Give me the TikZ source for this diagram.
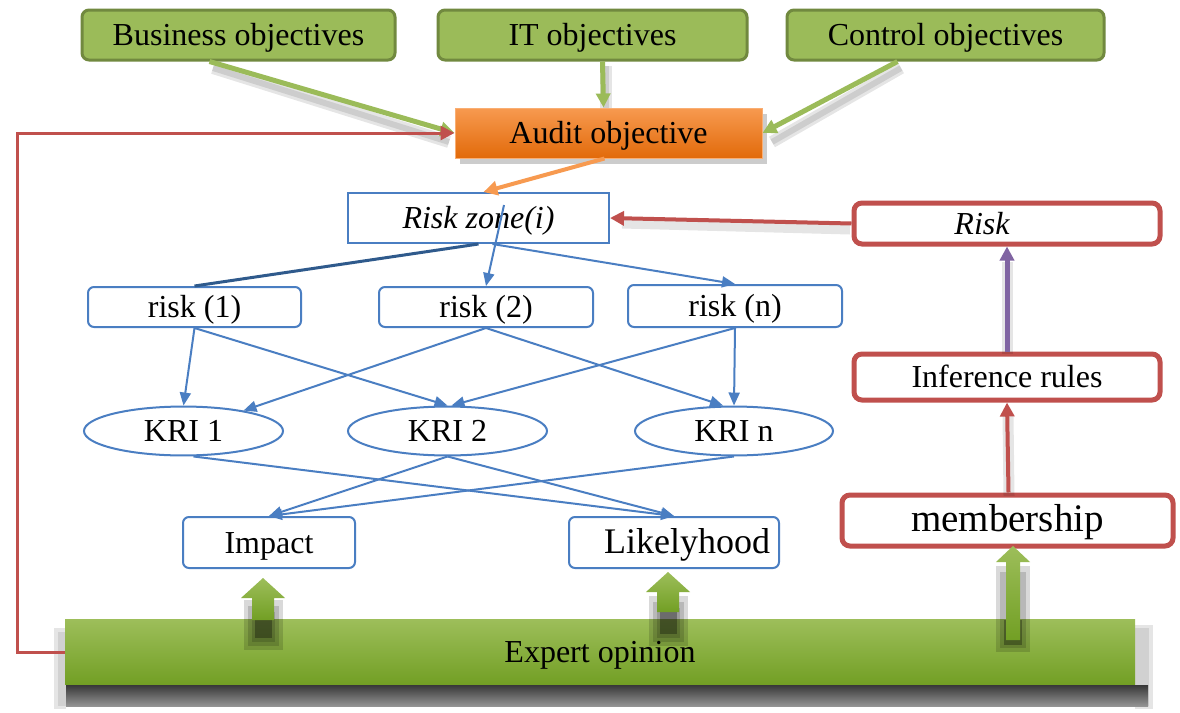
\documentclass[tikz,border=0pt]{standalone}
\usepackage{fontspec}
\setmainfont{Liberation Serif}
\usetikzlibrary{arrows.meta,shapes.geometric,shadows}
\definecolor{objgreen}{HTML}{9BBB59}
\definecolor{objgreenD}{HTML}{71893F}
\definecolor{accblue}{HTML}{4A7EC2}
\definecolor{darkblue}{HTML}{2F5A8C}
\definecolor{accred}{HTML}{C0504D}
\definecolor{accpurple}{HTML}{8064A2}
\definecolor{orangeL}{HTML}{F79A50}
\definecolor{orangeD}{HTML}{E26A0A}
\definecolor{barL}{HTML}{9DBE5A}
\definecolor{barD}{HTML}{729F24}
\tikzset{
  txt/.style={font=\fontsize{32}{36}\selectfont, inner sep=1pt, align=center, text height=28pt, text depth=6.6pt},
  objbox/.style={txt, draw=objgreenD, line width=3pt, fill=objgreen, rounded corners=7pt, minimum height=50pt},
  auditbox/.style={txt, top color=orangeL, bottom color=orangeD, draw=orangeL!80!white, line width=1pt,
    minimum width=307pt, minimum height=50pt,
    drop shadow={opacity=0.4, shadow xshift=5pt, shadow yshift=-6pt}},
  zonebox/.style={txt, draw=accblue, line width=2pt, fill=white},
  riskbox/.style={txt, draw=accblue, line width=2pt, fill=white, rounded corners=6pt, minimum height=40pt},
  kri/.style={txt, ellipse, draw=accblue, line width=2pt, fill=white, inner sep=0pt},
  redbox/.style={txt, draw=accred, line width=5pt, fill=white, rounded corners=8pt},
  link/.style={accblue, line width=2pt, -{Triangle[length=13pt,width=11pt]}},
  greenarr/.style={objgreen, line width=5pt, -{Triangle[length=14pt,width=14pt]}},
  gshadow/.style={black, opacity=0.1, line width=12pt},
  gshadowin/.style={black, opacity=0.1, line width=6pt},
  redarr/.style={accred, line width=4pt, -{Triangle[length=14pt,width=14pt]}},
  barshade/.style={top color=barL, bottom color=barD},
  smudge/.style={black, opacity=0.15},
}
\begin{document}
\begin{tikzpicture}[x=1pt, y=-1pt]
\useasboundingbox[fill=white] (0,0) rectangle (1180,712);

% shadow under the expert bar
\fill[black!10] (54,628) rectangle (66,709);
\fill[black!10] (1135,625) rectangle (1153,709);
\fill[black!18] (58,632) rectangle (66,706);
\fill[black!18] (1135,628) rectangle (1149,706);
\shade[top color=black!78, bottom color=black!42] (66,685) rectangle (1148,706);

% expert opinion bar
\node[txt, barshade, minimum width=1070pt, minimum height=65pt] (expert) at (600,652) {Expert opinion};

% objectives row
\node[objbox, minimum width=313pt] (bus) at (238.5,35) {Business objectives};
\node[objbox, minimum width=309pt] (itobj) at (592.5,35) {IT objectives};
\node[objbox, minimum width=317pt] (ctl) at (945.5,35) {Control objectives};

% soft shadows of the green arrows
\draw[gshadow] (213,68) -- (449,142);
\draw[gshadowin] (213,68) -- (449,142);
\draw[gshadow] (606,66) -- (606,110);
\draw[gshadowin] (606,66) -- (606,110);
\draw[gshadow] (901,68) -- (772,142);
\draw[gshadowin] (901,68) -- (772,142);

\node[auditbox] (audit) at (608.5,133) {Audit objective};

\draw[greenarr] ([xshift=-29pt]bus.south) -- (audit.west);
\draw[greenarr] ([xshift=10pt]itobj.south) -- ([xshift=-5pt]audit.north);
\draw[greenarr] ([xshift=-48pt]ctl.south) -- (audit.east);

% risk zone and risk
\node[zonebox, minimum width=261pt, minimum height=50pt] (zone) at (478.5,218) {\itshape Risk zone(i)};
\node[redbox, minimum width=306pt, minimum height=41pt] (risk) at (1007,223.5) {\hspace*{-50pt}\itshape Risk};
\node[redbox, minimum width=306pt, minimum height=46pt] (infer) at (1007,377) {Inference rules};
\node[redbox, minimum width=331pt, minimum height=51pt, font=\fontsize{39}{42}\selectfont] (member) at (1007.5,520.5) {membership};

\draw[orangeL, line width=4pt, -{Triangle[length=14pt,width=14pt]}] ([xshift=-4pt]audit.south) -- ([xshift=5pt]zone.north);

% feedback loop from the experts to the audit objective
\draw[accred, line width=3pt, -{Triangle[length=14pt,width=14pt]}] (expert.west) -- (17,652) -- (17,133) -- (audit.west);

% risk level chain
\draw[black, opacity=0.1, line width=11pt] (850,229) -- (622,223);
\draw[redarr] (risk.west) -- (zone.east);
\draw[black, opacity=0.1, line width=11pt] (1007,354) -- (1007,262);
\draw[accpurple, line width=5pt, -{Triangle[length=14pt,width=14pt]}] (infer.north) -- (risk.south);
\draw[black, opacity=0.1, line width=11pt] (1009,496) -- (1008,416);
\draw[redarr] ([xshift=1pt]member.north) -- (infer.south);

% individual risks
\node[riskbox, minimum width=213pt] (r1) at (194.5,307) {risk (1)};
\node[riskbox, minimum width=214pt] (r2) at (486,307) {risk (2)};
\node[riskbox, minimum width=214pt, minimum height=42pt] (rn) at (735,306) {risk (n)};

\draw[darkblue, line width=3pt] (zone.south) -- (r1.north);
\draw[link] ([xshift=25.5pt, yshift=13pt]zone.center) -- (r2.north);
\draw[link] ([xshift=14pt]zone.south) -- (rn.north);

% key risk indicators
\node[kri, minimum width=199pt, minimum height=48pt] (k1) at (183.5,431) {KRI 1};
\node[kri, minimum width=199pt, minimum height=48pt] (k2) at (447.5,431) {KRI 2};
\node[kri, minimum width=198pt, minimum height=48pt] (kn) at (734,431) {KRI n};

\draw[link] (r1.south) -- (k1.north);
\draw[link] (r1.south) -- (k2.north);
\draw[link] (r2.south) -- (k1);
\draw[link] (r2.south) -- ([xshift=-11pt]kn.north);
\draw[link] (rn.south) -- (kn.north);
\draw[link] (rn.south) -- ([xshift=4pt]k2.north);

% impact and likelyhood
\node[riskbox, minimum width=172pt, minimum height=51pt] (imp) at (269,542.5) {Impact};
\node[riskbox, minimum width=210pt, minimum height=51pt, font=\fontsize{36}{40}\selectfont] (lik) at (674,542.5) {\hspace*{26pt}Likelyhood};

\draw[link] ([xshift=10pt]k1.south) -- (lik.north);
\draw[link] (k2.south) -- (imp.north);
\draw[link] (k2.south) -- (lik.north);
\draw[link] (kn.south) -- (imp.north);

% block arrows from the expert bar, with their soft shadows
\fill[smudge] (244,600) rectangle (283,650);
\fill[smudge] (248,606) rectangle (279,646);
\fill[smudge] (252,612) rectangle (275,642);
\fill[black, opacity=0.3] (255,616) rectangle (272,638);
\shade[barshade] (252,620) -- (252,598) -- (241,598) -- (263,578) -- (285,598) -- (274,598) -- (274,620) -- cycle;

\fill[smudge] (649,596) rectangle (688,646);
\fill[smudge] (653,602) rectangle (684,642);
\fill[smudge] (657,608) rectangle (680,638);
\fill[black, opacity=0.3] (660,612) rectangle (677,634);
\shade[barshade] (657,612) -- (657,592) -- (646,592) -- (668,572) -- (690,592) -- (679,592) -- (679,612) -- cycle;

\fill[smudge] (996,566) rectangle (1030,652);
\fill[smudge] (1000,572) rectangle (1026,648);
\fill[black, opacity=0.3] (1004,620) rectangle (1022,645);
\shade[barshade] (1006,640) -- (1006,562) -- (996,562) -- (1013,546) -- (1030,562) -- (1020,562) -- (1020,640) -- cycle;
\end{tikzpicture}
\end{document}
